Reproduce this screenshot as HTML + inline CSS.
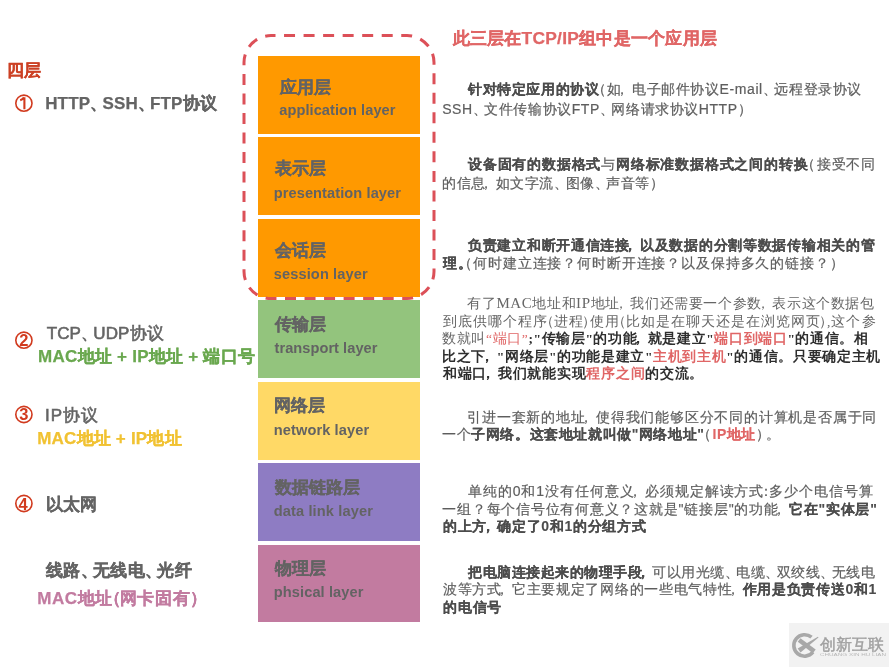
<!DOCTYPE html>
<html><head><meta charset="utf-8">
<style>
html,body{will-change:transform;margin:0;padding:0;background:#fff;width:889px;height:667px;overflow:hidden;position:relative;font-family:"Liberation Sans",sans-serif;}
.a{position:absolute;white-space:nowrap;line-height:1;}
.box{position:absolute;left:257.8px;width:162.5px;}
.lc{position:absolute;font-size:17px;font-weight:bold;color:#636363;line-height:1;white-space:nowrap;-webkit-text-stroke:0.3px #636363;}
.le{position:absolute;font-size:14.6px;font-weight:bold;color:#636363;line-height:1;white-space:nowrap;}
.lt{position:absolute;font-size:17px;font-weight:bold;color:#646464;line-height:1;white-space:nowrap;-webkit-text-stroke-width:0.25px;}
.lt.hv{-webkit-text-stroke-width:0.3px;}
.lt.rg{font-weight:normal;-webkit-text-stroke-width:0.6px;}
.lt i.op{margin-left:-8.5px;margin-right:-2px;}
.d{position:absolute;font-size:14px;color:#5e5e5e;line-height:1;white-space:nowrap;-webkit-text-stroke-width:0.2px;}
.d b{font-weight:bold;color:#4c4c4c;-webkit-text-stroke-width:0.1px;}
.d i.dc{margin-right:-3px;}
.d.s{font-size:13.5px;font-family:"Liberation Serif",serif;color:#666;-webkit-text-stroke-width:0;}
.d.s b{color:#2e2e2e;-webkit-text-stroke-width:0;}
.s u{text-decoration:none;font-size:15px;}
.r,.d b.r,.d.s b.r{color:#e06666;}
i{font-style:normal;}
i.cm{margin-left:-6.5px;margin-right:2px;}
i.cp{margin-right:-5px;}
i.op{margin-left:-7px;margin-right:0.5px;}
i.cl{margin-left:-5px;margin-right:-5px;}
i.dn{margin-right:-5px;}
.s i.op{margin-left:-8.5px;margin-right:-1px;}
.s i.cp{margin-left:-2px;margin-right:-6.8px;}
.s i.cm{margin-left:-6px;margin-right:2px;}
i.jq{margin-right:-8px;}
</style></head><body>
<div class="box" style="top:55.6px;height:78.0px;background:#ff9900"></div>
<div class="box" style="top:137.4px;height:77.5px;background:#ff9900"></div>
<div class="box" style="top:218.8px;height:77.9px;background:#ff9900"></div>
<div class="box" style="top:300.3px;height:77.6px;background:#93c47d"></div>
<div class="box" style="top:382px;height:77.6px;background:#ffd966"></div>
<div class="box" style="top:463.3px;height:77.7px;background:#8e7cc3"></div>
<div class="box" style="top:545px;height:77.3px;background:#c27ba0"></div>

<svg style="position:absolute;left:0;top:0" width="889" height="667">
<path d="M 271 35.6 H 407 A 27 27 0 0 1 434 62.6 V 271.6 A 27 27 0 0 1 407 298.6 H 271 A 27 27 0 0 1 244 271.6 V 62.6 A 27 27 0 0 1 271 35.6 Z" fill="none" stroke="#dc5058" stroke-width="3" stroke-dasharray="11 8.536" stroke-dashoffset="6.5"/>
<g fill="none" stroke="#d13a1e" stroke-width="1.6">
<circle cx="23.9" cy="103.2" r="8.1"/>
<circle cx="23.9" cy="340.2" r="8.1"/>
<circle cx="23.9" cy="414.5" r="8.1"/>
<circle cx="23.9" cy="503.5" r="8.1"/>
</g>
<path d="M 24.4 97.3 V 109.2 M 20.2 100.2 Q 22.8 99.4 24 97.4" fill="none" stroke="#d13a1e" stroke-width="2.1"/>
<g fill="#d13a1e" font-family="Liberation Sans" font-weight="bold" font-size="16.5" text-anchor="middle">
<text x="23.9" y="346.1">2</text>
<text x="23.9" y="420.4">3</text>
<text x="23.1" y="509.9">4</text>
</g>
</svg>

<div id="b1c" class="lc" style="left:280.12px;top:78.70px;letter-spacing:0.000px">应用层</div>
<div id="b1e" class="le" style="left:279.32px;top:103.02px;letter-spacing:0.060px">application layer</div>
<div id="b2c" class="lc" style="left:274.56px;top:160.42px;letter-spacing:0.000px">表示层</div>
<div id="b2e" class="le" style="left:273.76px;top:185.82px;letter-spacing:0.085px">presentation layer</div>
<div id="b3c" class="lc" style="left:274.56px;top:242.26px;letter-spacing:0.000px">会话层</div>
<div id="b3e" class="le" style="left:273.76px;top:267.02px;letter-spacing:0.120px">session layer</div>
<div id="b4c" class="lc" style="left:274.56px;top:315.50px;letter-spacing:0.000px">传输层</div>
<div id="b4e" class="le" style="left:274.56px;top:340.70px;letter-spacing:0.046px">transport layer</div>
<div id="b5c" class="lc" style="left:273.76px;top:397.10px;letter-spacing:0.000px">网络层</div>
<div id="b5e" class="le" style="left:273.76px;top:422.50px;letter-spacing:0.107px">network layer</div>
<div id="b6c" class="lc" style="left:274.56px;top:478.52px;letter-spacing:0.000px">数据链路层</div>
<div id="b6e" class="le" style="left:273.76px;top:504.34px;letter-spacing:0.126px">data link layer</div>
<div id="b7c" class="lc" style="left:275.36px;top:559.70px;letter-spacing:0.000px">物理层</div>
<div id="b7e" class="le" style="left:273.76px;top:584.66px;letter-spacing:0.107px">phsical layer</div>
<div id="ttl" class="a" style="font-size:17.4px;font-weight:bold;color:#e06666;-webkit-text-stroke:0.25px #e06666;left:452.56px;top:30.16px;letter-spacing:0.254px">此三层在TCP/IP组中是一个应用层</div>
<div id="sc4" class="a" style="font-size:17px;font-weight:bold;color:#cc4125;-webkit-text-stroke:0.2px #cc4125;left:6.56px;top:62.04px;letter-spacing:0.000px">四层</div>
<div id="lproto" class="lt" style="left:45.20px;top:95.00px;letter-spacing:0.160px">HTTP<i class="dn">、</i>SSH<i class="dn">、</i>FTP协议</div>
<div id="ltcp" class="lt rg" style="left:46.68px;top:324.68px;letter-spacing:0.140px">TCP<i class="dn">、</i>UDP协议</div>
<div id="lgrn" class="lt" style="color:#6aa84f;left:38.08px;top:348.08px;letter-spacing:0.254px">MAC地址 + IP地址 + 端口号</div>
<div id="lip" class="lt rg" style="left:45.08px;top:406.96px;letter-spacing:0.853px">IP协议</div>
<div id="lylw" class="lt" style="color:#f1c232;left:37.20px;top:430.00px;letter-spacing:0.204px">MAC地址 + IP地址</div>
<div id="leth" class="lt hv" style="left:46.20px;top:495.92px;letter-spacing:0.000px">以太网</div>
<div id="lwire" class="lt hv" style="left:45.88px;top:562.08px;letter-spacing:0.340px">线路<i class="dn">、</i>无线电<i class="dn">、</i>光纤</div>
<div id="lpink" class="lt" style="color:#c27ba0;left:37.20px;top:590.16px;letter-spacing:0.576px">MAC地址<i class="op">（</i>网卡固有<i class="cp">）</i></div>

<div id="p1l1" class="d" style="left:468.00px;top:82.40px;letter-spacing:0.587px"><b>针对特定应用的协议</b><i class="op">（</i>如<i class="cm">，</i>电子邮件协议E-mail<i class="dc">、</i>远程登录协议</div>
<div id="p1l2" class="d" style="left:442.20px;top:101.70px;letter-spacing:0.567px">SSH<i class="dc">、</i>文件传输协议FTP<i class="dc">、</i>网络请求协议HTTP<i class="cp">）</i></div>
<div id="p2l1" class="d" style="left:468.00px;top:157.40px;letter-spacing:0.800px"><b>设备固有的数据格式</b>与<b>网络标准数据格式之间的转换</b><i class="op">（</i>接受不同</div>
<div id="p2l2" class="d" style="left:442.20px;top:175.60px;letter-spacing:0.533px">的信息<i class="cm">，</i>如文字流<i class="dc">、</i>图像<i class="dc">、</i>声音等<i class="cp">）</i></div>
<div id="p3l1" class="d" style="left:468.00px;top:238.00px;letter-spacing:0.711px"><b>负责建立和断开通信连接<i class="cm">，</i>以及数据的分割等数据传输相关的管</b></div>
<div id="p3l2" class="d" style="left:443.00px;top:256.10px;letter-spacing:0.859px"><b>理<i class="jq">。</i></b><i class="op">（</i>何时建立连接？何时断开连接？以及保持多久的链接？<i class="cp">）</i></div>
<div id="p4l1" class="d s" style="left:467.20px;top:296.40px;letter-spacing:0.590px">有了<u>MAC</u>地址和<u>IP</u>地址<i class="cm">，</i>我们还需要一个参数<i class="cm">，</i>表示这个数据包</div>
<div id="p4l2" class="d s" style="left:443.00px;top:315.20px;letter-spacing:1.022px">到底供哪个程序<i class="op">（</i>进程<i class="cp">）</i>使用<i class="op">（</i>比如是在聊天还是在浏览网页<i class="cp">）</i>,这个参</div>
<div id="p4l3" class="d s" style="left:442.20px;top:332.40px;letter-spacing:0.600px">数就叫<span class="r">“端口”</span><b>;"传输层"的功能<i class="cm">，</i>就是建立"</b><b class="r">端口到端口</b><b>"的通信。相</b></div>
<div id="p4l4" class="d s" style="left:442.20px;top:349.50px;letter-spacing:0.650px"><b>比之下<i class="cm">，</i>"网络层"的功能是建立"</b><b class="r">主机到主机</b><b>"的通信。只要确定主机</b></div>
<div id="p4l5" class="d s" style="left:443.00px;top:366.50px;letter-spacing:0.734px"><b>和端口<i class="cm">，</i>我们就能实现</b><b class="r">程序之间</b><b>的交流。</b></div>
<div id="p5l1" class="d" style="left:467.20px;top:410.00px;letter-spacing:0.800px">引进一套新的地址<i class="cm">，</i>使得我们能够区分不同的计算机是否属于同</div>
<div id="p5l2" class="d" style="left:442.20px;top:427.40px;letter-spacing:0.576px">一个<b>子网络。这套地址就叫做"网络地址"</b><i class="op">（</i><b class="r">IP地址</b><i class="cp">）</i>。</div>
<div id="p6l1" class="d" style="left:468.00px;top:484.20px;letter-spacing:0.914px">单纯的0和1没有任何意义<i class="cm">，</i>必须规定解读方式<i class="cl">：</i>多少个电信号算</div>
<div id="p6l2" class="d" style="left:442.20px;top:501.80px;letter-spacing:0.774px">一组？每个信号位有何意义？这就是"链接层"的功能<i class="cm">，</i><b>它在"实体层"</b></div>
<div id="p6l3" class="d" style="left:443.00px;top:519.20px;letter-spacing:0.686px"><b>的上方<i class="cm">，</i>确定了0和1的分组方式</b></div>
<div id="p7l1" class="d" style="left:468.00px;top:565.00px;letter-spacing:0.514px"><b>把电脑连接起来的物理手段<i class="cm">，</i></b>可以用光缆<i class="dc">、</i>电缆<i class="dc">、</i>双绞线<i class="dc">、</i>无线电</div>
<div id="p7l2" class="d" style="left:443.00px;top:582.40px;letter-spacing:0.693px">波等方式<i class="cm">，</i>它主要规定了网络的一些电气特性<i class="cm">，</i><b>作用是负责传送0和1</b></div>
<div id="p7l3" class="d" style="left:443.00px;top:599.70px;letter-spacing:0.800px"><b>的电信号</b></div>

<div style="position:absolute;left:789px;top:623px;width:100px;height:44px;background:#f2f2f2"></div>
<svg style="position:absolute;left:789px;top:623px" width="100" height="44">
<path d="M 22.5 14.2 A 10.75 10.75 0 1 0 23.95 29.2" fill="none" stroke="#a8a8a8" stroke-width="3.6"/>
<path d="M 10.1 17 L 25.3 28.3" fill="none" stroke="#a8a8a8" stroke-width="4.6"/>
<polygon points="29.5,14.6 28.9,13.8 8.7,25.5 11.5,29.5" fill="#a8a8a8"/>
<text x="31" y="26.6" font-size="16.2" fill="#a0a0a0" stroke="#a0a0a0" stroke-width="0.4" font-family="Liberation Sans">创新互联</text>
<text x="31" y="32.6" font-size="3.6" fill="#b8b8b8" font-family="Liberation Sans" textLength="66" lengthAdjust="spacingAndGlyphs">CHUANG XIN HU LIAN</text>
</svg>
</body></html>
